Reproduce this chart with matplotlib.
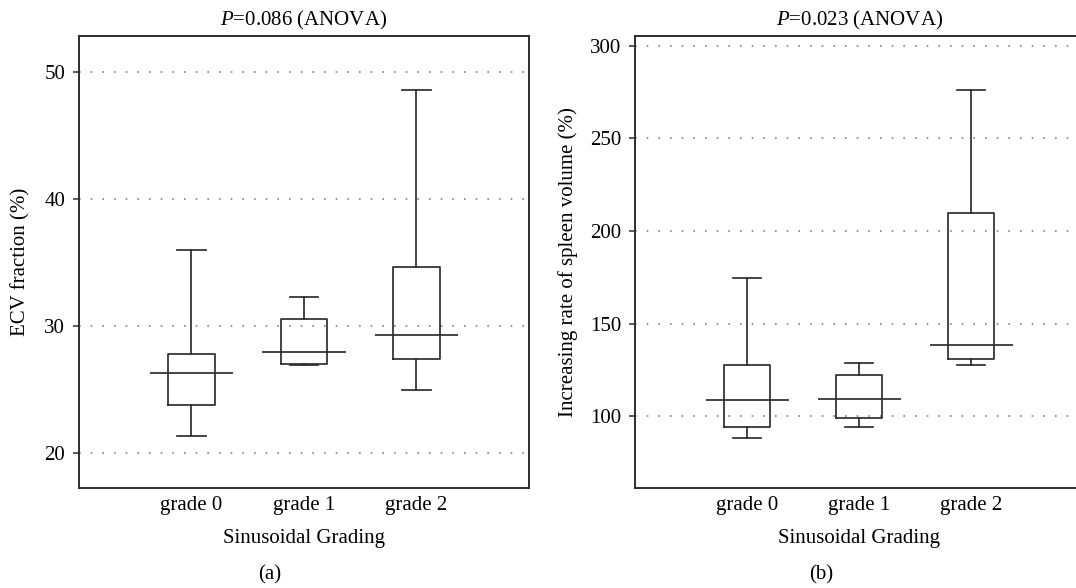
import matplotlib
matplotlib.use("Agg")
import matplotlib.pyplot as plt

# box statistics
grades = ["grade 0", "grade 1", "grade 2"]

ecv_low = [21.3, 26.9, 24.9]
ecv_q1 = [23.75, 27.0, 27.4]
ecv_med = [26.3, 27.95, 29.3]
ecv_q3 = [27.8, 30.55, 34.65]
ecv_high = [36.0, 32.3, 48.6]

spl_low = [88.5, 94.1, 127.5]
spl_q1 = [94.1, 99.3, 130.9]
spl_med = [109.0, 109.4, 138.7]
spl_q3 = [127.5, 122.3, 209.7]
spl_high = [174.8, 129.0, 276.3]

plt.rcParams['font.family'] = ['Liberation Serif', 'DejaVu Serif']
plt.rcParams['mathtext.fontset'] = 'custom'
plt.rcParams['mathtext.rm'] = 'Liberation Serif'
plt.rcParams['mathtext.it'] = 'Liberation Serif:italic'

FS = 15
LINE = '#2e2e2e'


def make_stats(low, q1, med, q3, high):
    stats = []
    for i in range(len(low)):
        stats.append({'whislo': low[i], 'q1': q1[i], 'med': med[i],
                      'q3': q3[i], 'whishi': high[i], 'fliers': []})
    return stats


def draw_panel(ax, stats, meds, title, ylabel, ylim, yticks):
    pos = [1, 2, 3]
    for y in yticks:
        ax.axhline(y, color='#808080', lw=1.2, linestyle=(0, (1, 6)), zorder=0)
    ax.bxp(stats, positions=pos, widths=0.41, capwidths=0.25,
           showfliers=False,
           boxprops=dict(color=LINE, lw=1.25),
           whiskerprops=dict(color=LINE, lw=1.25),
           capprops=dict(color=LINE, lw=1.25),
           medianprops=dict(lw=0))
    ax.hlines(meds, [p - 0.37 for p in pos], [p + 0.37 for p in pos],
              color=LINE, lw=1.25)
    ax.set_xlim(0, 4)
    ax.set_ylim(*ylim)
    ax.set_yticks(yticks)
    ax.set_xticks(pos)
    ax.set_xticklabels(grades)
    ax.tick_params(axis='x', length=0, pad=6, labelsize=FS)
    ax.tick_params(axis='y', length=4, width=1.1, color=LINE, pad=6, labelsize=FS)
    for s in ax.spines.values():
        s.set_color(LINE)
        s.set_linewidth(1.4)
    ax.set_title(title, fontsize=FS, pad=7.5)
    ax.set_xlabel("Sinusoidal Grading", fontsize=FS, labelpad=10)
    ax.set_ylabel(ylabel, fontsize=FS)


fig = plt.figure(figsize=(10.76, 5.88), dpi=100)
ax1 = fig.add_axes([0.0734, 0.1706, 0.4182, 0.7687])
ax2 = fig.add_axes([0.5904, 0.1706, 0.4165, 0.7687])

draw_panel(ax1, make_stats(ecv_low, ecv_q1, ecv_med, ecv_q3, ecv_high), ecv_med,
           r"$P$=0.086 (ANOVA)", "ECV fraction (%)", (17.24, 52.86), [20, 30, 40, 50])
draw_panel(ax2, make_stats(spl_low, spl_q1, spl_med, spl_q3, spl_high), spl_med,
           r"$P$=0.023 (ANOVA)", "Increasing rate of spleen volume (%)", (61.5, 305.4),
           [100, 150, 200, 250, 300])
# right panel is cut by the page edge in the source
ax2.spines['right'].set_visible(False)

ax1.yaxis.set_label_coords(-0.107, 0.5)
ax2.yaxis.set_label_coords(-0.128, 0.5)

fig.text(270 / 1076, 1 - 575 / 588, "(a)", fontsize=FS, ha='center', va='center')
fig.text(821 / 1076, 1 - 575 / 588, "(b)", fontsize=FS, ha='center', va='center')

fig.savefig("out.png", dpi=100)
